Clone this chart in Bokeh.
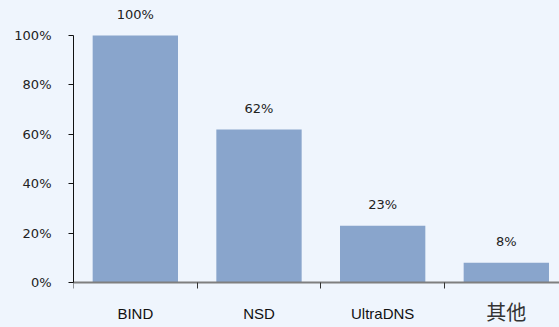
from bokeh.plotting import figure
from bokeh.models import FixedTicker, Range1d, ColumnDataSource
from bokeh.core.properties import value
from bokeh.embed import file_html
from bokeh.resources import INLINE

categories = ["BIND", "NSD", "UltraDNS", "其他"]
shares = [100, 62, 23, 8]
value_labels = ["100%", "62%", "23%", "8%"]
y_ticks = [0, 20, 40, 60, 80, 100]
y_tick_labels = ["0%", "20%", "40%", "60%", "80%", "100%"]

BG = "#EFF5FD"
BAR = "#89A5CC"

centers = [i + 0.5 for i in range(len(categories))]
bounds = [float(i) for i in range(len(categories))]

p = figure(width=559, height=327, output_backend="svg", toolbar_location=None,
           x_range=Range1d(0, 3.93), y_range=Range1d(-18.2, 114.2),
           min_border_left=73, min_border_right=0, min_border_top=0, min_border_bottom=0)
p.background_fill_color = BG
p.border_fill_color = BG
p.outline_line_color = None
p.grid.visible = False

src = ColumnDataSource(dict(x=centers, top=shares, lab=value_labels))
p.vbar(x="x", top="top", bottom=0, width=0.69, source=src, fill_color=BAR, line_color=None)
p.text(x="x", y="top", text="lab", source=src, y_offset=-21, text_align="center",
       text_baseline="middle", text_font=value("DejaVu Sans"), text_font_size="13px",
       text_color="#222222")

# y axis
ya = p.yaxis[0]
ya.ticker = FixedTicker(ticks=y_ticks, minor_ticks=[])
ya.major_label_overrides = {t: l for t, l in zip(y_ticks, y_tick_labels)}
ya.bounds = (0, 100)
ya.axis_line_color = "#111111"
ya.axis_line_width = 1
ya.major_tick_in = 0
ya.major_tick_out = 5
ya.major_tick_line_color = "#111111"
ya.major_label_standoff = 17
ya.major_label_text_font = "DejaVu Sans"
ya.major_label_text_font_size = "13px"
ya.major_label_text_color = "#222222"

# x axis, placed at y = 0 inside the frame
xa = p.xaxis[0]
xa.fixed_location = 0
xa.ticker = FixedTicker(ticks=centers[:3], minor_ticks=bounds)
xa.major_label_overrides = {c: n for c, n in zip(centers[:3], categories[:3])}
xa.axis_line_color = "#7F7F7F"
xa.axis_line_width = 2
xa.major_tick_in = 0
xa.major_tick_out = 0
xa.minor_tick_in = 0
xa.minor_tick_out = 6
xa.minor_tick_line_color = "#333333"
xa.minor_tick_line_width = 1
xa.major_label_standoff = 16
xa.major_label_text_font = "Liberation Sans"
xa.major_label_text_font_size = "15px"
xa.major_label_text_color = "#111111"

p.text(x=[centers[3]], y=[-11.6], text=[categories[3]], text_align="center",
       text_baseline="middle", text_font=value("Noto Sans CJK SC"),
       text_font_size="20px", text_color="#333333")

html = file_html(p, INLINE)
html = html.replace("<head>", "<head><style>body{background:%s;}</style>" % BG, 1)
open("out.html", "w").write(html)
